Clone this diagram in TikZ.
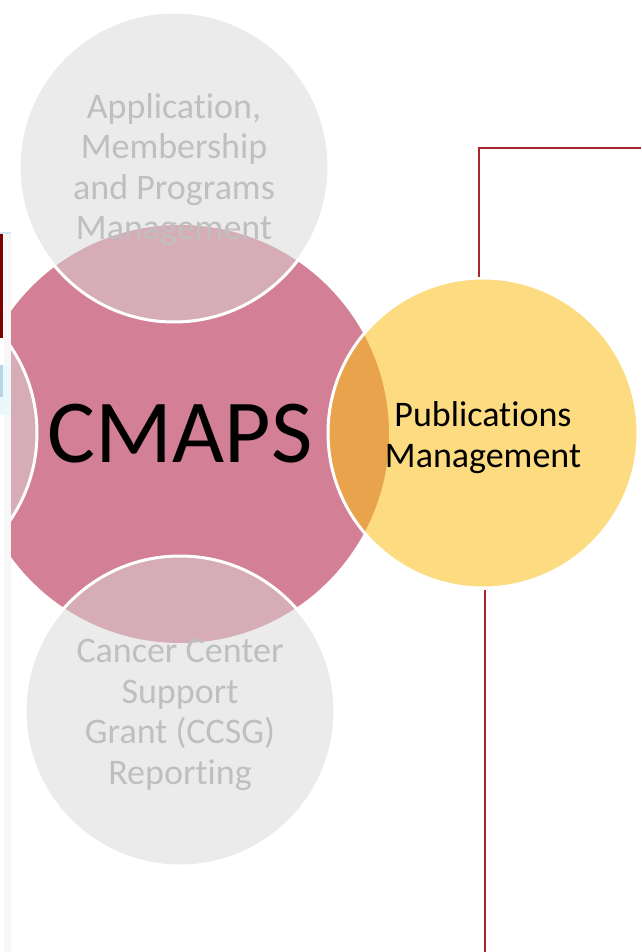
\documentclass[tikz,border=0pt]{standalone}
\usepackage{fontspec}
\setmainfont{Carlito}[Ligatures={NoCommon,NoContextual,NoRequired}, Contextuals=NoAlternate, RawFeature=-ccmp]
\usepackage{xcolor}
\usepackage{tikz}
\usetikzlibrary{positioning}

\definecolor{hubpink}{HTML}{D38097}
\definecolor{spokegray}{HTML}{EBEBEB}
\definecolor{spokepink}{HTML}{D6ACB7}
\definecolor{spoketext}{HTML}{BFBFBF}
\definecolor{pubyellow}{HTML}{FDDB80}
\definecolor{puborange}{HTML}{E8A34C}
\definecolor{linkred}{HTML}{A8272F}
\definecolor{edgegray}{HTML}{F7F7F7}
\definecolor{edgered}{HTML}{7F0000}
\definecolor{edgeblue}{HTML}{B7D5E6}
\definecolor{edgecyan}{HTML}{EAF8FC}

\begin{document}
\begin{tikzpicture}[x=1pt, y=-1pt,
	hubnode/.style={circle, fill=hubpink, minimum size=418pt, inner sep=0pt, font=\fontsize{90}{90}\selectfont},
	graynode/.style={circle, fill=spokegray, draw=white, line width=3pt, minimum size=310pt, inner sep=0pt, text=spoketext, align=center, font=\fontsize{36}{40.5}\selectfont, path picture={\fill[spokepink] (hub.center) circle (209pt);}},
	yellownode/.style={graynode, fill=pubyellow, text=black, path picture={\fill[puborange] (hub.center) circle (209pt);}},
	lift/.style={execute at begin node={\rule{0pt}{#1}}},
	redline/.style={draw=linkred, line width=2pt},
	]
	\useasboundingbox (0,0) rectangle (641,952);

	%Page edge
	\fill[edgegray] (4,234) rectangle (11,952);
	\fill[edgered] (0,234) rectangle (3,338);
	\fill[edgeblue!60] (0,232) rectangle (11,234);
	\fill[edgecyan] (0,365) rectangle (11,415);
	\fill[edgeblue] (0,365) rectangle (3,397);

	%Nodes
	\begin{scope}
		\clip (11,0) rectangle (641,952);
		\node[hubnode](hub) at (180,434) {CMAPS};
		\node[graynode, fill=spokepink](other) at (-118,433) {};
	\end{scope}
	\node[graynode, lift=152pt](apps) at (174,167) {Applicat\kern0pt ion,\\Membership\\and Programs\\Management};
	\node[graynode, lift=153pt](ccsg) at (180,711) {Cancer Center\\Support\\Grant (CCSG)\\Reporting};
	\node[yellownode, lift=75pt](pubs) at (483,433) {Publicat\kern0pt ions\\Management};

	%Lines
	\coordinate (topend) at (641,148);
	\coordinate (botend) at (485,952);
	\draw[redline] ([xshift=-4pt]pubs.north) |- (topend);
	\draw[redline] ([xshift=2pt]pubs.south) -- (botend);

\end{tikzpicture}
\end{document}
